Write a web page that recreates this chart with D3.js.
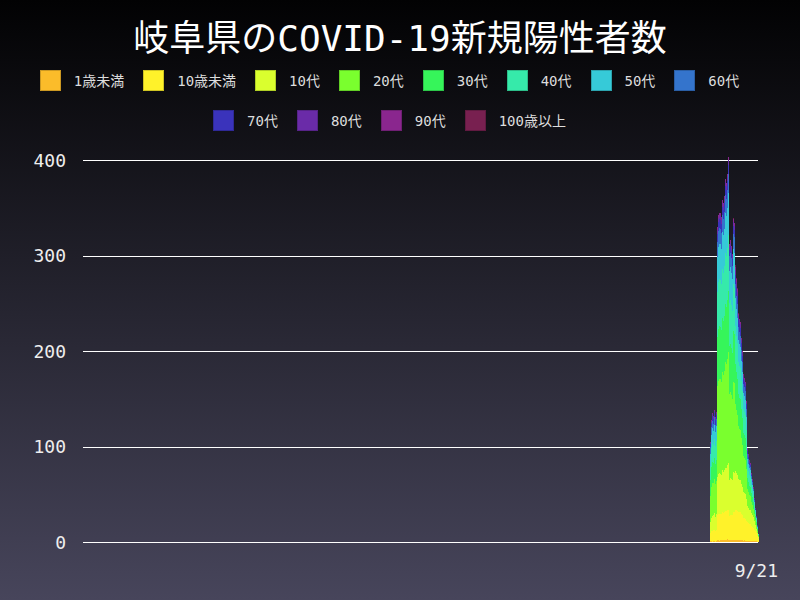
<!DOCTYPE html>
<html><head><meta charset="utf-8">
<script src="https://cdn.jsdelivr.net/npm/d3@7"></script>
<style>html,body{margin:0;padding:0;background:#000}svg{display:block}</style>
</head><body>
<script>
// ---------- data ----------
const titleText = "岐阜県のCOVID-19新規陽性者数";
const dateLabel = "9/21";
const yTicks = [0, 100, 200, 300, 400];
const seriesNames = ["1歳未満","10歳未満","10代","20代","30代","40代","50代","60代","70代","80代","90代","100歳以上"];
const seriesColors = ["#fbbc2a","#fff22a","#daff2e","#7aff2e","#36f55a","#36eaaa","#36cad8","#3474cc","#3a33bb","#6a2ba8","#8a268e","#782050"];
const dates = [
 "2021-08-04","2021-08-05","2021-08-06","2021-08-07","2021-08-08","2021-08-09","2021-08-10",
 "2021-08-11","2021-08-12","2021-08-13","2021-08-14","2021-08-15","2021-08-16","2021-08-17",
 "2021-08-18","2021-08-19","2021-08-20","2021-08-21","2021-08-22","2021-08-23","2021-08-24",
 "2021-08-25","2021-08-26","2021-08-27","2021-08-28","2021-08-29","2021-08-30","2021-08-31",
 "2021-09-01","2021-09-02","2021-09-03","2021-09-04","2021-09-05","2021-09-06","2021-09-07",
 "2021-09-08","2021-09-09","2021-09-10","2021-09-11","2021-09-12","2021-09-13","2021-09-14",
 "2021-09-15","2021-09-16","2021-09-17","2021-09-18","2021-09-19","2021-09-20","2021-09-21"];
const axisStart = "2019-11-16";
const axisEnd = "2021-09-22";

const age00 = [1,1,0,1,1,0,1, 2,2,1,2,2,2,2,2,2,2,3,2,2,2,2,2,2,2, 2,2,2,2,2,2,2,2,1,2,1,1, 1,1,1,1,1,1,1,1,1,1,0,0];
const age01 = [8,10,11,12,12,11,12, 26,27,28,27,27,29,28,29,30,30,31,32,25,26,26,26,29,29, 32,31,30,29,29,29,27,26,24,23,23,21, 20,19,18,18,16,15,14,12,10,8,6,3];
const age10 = [12,14,16,15,17,15,16, 40,42,43,42,41,44,43,44,46,46,47,49,38,39,38,37,42,41, 40,39,38,35,34,34,32,30,27,26,26,23, 17,16,15,15,13,12,11,9,7,5,3,2];
const age20 = [27,33,35,34,36,35,35, 95,98,99,100,98,103,102,104,110,108,111,116,90,90,88,85,95,94, 70,66,63,55,53,52,48,44,38,37,36,31, 17,16,15,14,12,11,9,7,5,4,3,1];
const age30 = [17,21,22,21,22,21,22, 52,54,55,54,54,57,56,58,61,60,61,64,50,50,49,48,53,52, 42,40,38,34,33,33,30,28,24,24,23,20, 12,11,10,10,9,8,7,5,4,3,2,1];
const age40 = [15,19,20,19,20,19,20, 47,49,49,49,48,51,51,52,54,54,55,58,45,46,45,44,49,48, 40,38,37,33,33,32,30,28,25,24,24,21, 12,11,11,10,9,8,7,5,4,3,1,1];
const age50 = [12,14,15,14,15,14,15, 36,37,37,38,37,39,39,39,41,41,42,44,34,35,34,33,37,37, 29,28,27,24,23,22,21,20,17,17,16,14, 8,8,7,7,6,5,4,3,2,1,1,0];
const age60 = [7,8,8,8,8,8,8, 16,17,17,16,17,17,17,18,19,18,19,20,15,15,15,14,16,16, 15,14,14,13,13,12,11,10,9,9,9,8, 5,5,4,4,3,3,2,2,1,1,1,0];
const age70 = [4,5,5,5,4,5,4, 9,9,9,9,9,9,10,9,10,10,9,10,7,7,7,7,8,8, 10,9,9,8,8,8,7,7,6,6,5,5, 3,2,2,2,1,1,1,1,1,1,1,0];
const age80 = [1,2,2,2,2,2,2, 4,4,4,4,4,4,4,4,4,4,4,5,3,3,3,3,4,4, 5,5,4,4,4,4,4,3,3,2,3,2, 2,2,2,1,1,1,1,1,1,0,0,0];
const age90 = [1,1,1,1,1,1,1, 3,3,3,3,3,3,3,3,3,3,3,3,3,3,3,3,3,3, 3,3,3,2,2,2,2,2,2,2,2,2, 1,1,1,1,1,1,1,0,0,0,0,0];
const age100 = [0,0,0,0,0,0,0, 0,0,0,0,0,0,0,0,0,0,0,0,0,0,0,0,1,0, 2,1,1,1,0,0,0,0,0,0,0,0, 0,0,0,0,0,0,0,0,0,0,0,0];
const seriesValues = [age00,age01,age10,age20,age30,age40,age50,age60,age70,age80,age90,age100];

// ---------- chart ----------
const W = 800, H = 600;
const parse = d3.utcParse("%Y-%m-%d");
const svg = d3.select("body").append("svg").attr("width", W).attr("height", H);

const defs = svg.append("defs");
const grad = defs.append("linearGradient").attr("id","bg").attr("x1",0).attr("y1",0).attr("x2",0).attr("y2",1);
grad.append("stop").attr("offset","0%").attr("stop-color","#020203");
grad.append("stop").attr("offset","100%").attr("stop-color","#47455b");
svg.append("rect").attr("width",W).attr("height",H).attr("fill","url(#bg)");

const x = d3.scaleUtc().domain([parse(axisStart), parse(axisEnd)]).range([83, 759]);
const y = d3.scaleLinear().domain([0, 400]).range([542, 160]);

// grid
const grid = svg.append("g");
grid.selectAll("line").data(yTicks).join("line")
  .attr("x1", 83).attr("x2", 758)
  .attr("y1", d => Math.round(y(d)) + 0.5).attr("y2", d => Math.round(y(d)) + 0.5)
  .attr("stroke", "#ffffff").attr("stroke-width", 1);
grid.selectAll("text").data(yTicks).join("text")
  .attr("x", 66).attr("y", d => y(d))
  .attr("text-anchor", "end").attr("dominant-baseline", "central")
  .attr("fill", "#eeeeee").attr("font-family", "'DejaVu Sans Mono', monospace").attr("font-size", 18)
  .text(d => d);

// stacked bars
const rows = dates.map((d, i) => {
  const r = { date: parse(d) };
  seriesNames.forEach((n, k) => r[n] = seriesValues[k][i]);
  return r;
});
const stack = d3.stack().keys(seriesNames)(rows);
const barsG = svg.append("g").attr("shape-rendering", "crispEdges");
stack.forEach((layer, k) => {
  barsG.append("g").attr("fill", seriesColors[k])
    .selectAll("rect").data(layer.filter(d => d[1] > d[0])).join("rect")
    .attr("x", d => x(d.data.date))
    .attr("width", d => x(d3.utcDay.offset(d.data.date, 1)) - x(d.data.date))
    .attr("y", d => y(d[1]))
    .attr("height", d => y(d[0]) - y(d[1]));
});

// title
svg.append("text").attr("x", 400).attr("y", 51).attr("text-anchor", "middle")
  .attr("fill", "#ffffff").attr("font-family", "'DejaVu Sans Mono', 'Noto Sans CJK JP', sans-serif")
  .attr("font-size", 36).text(titleText);

// legend
const legendFont = "'DejaVu Sans Mono', 'Noto Sans CJK JP', sans-serif";
const legendRows = [seriesNames.slice(0, 8), seriesNames.slice(8)];
const rowY = [70, 110];
const boxW = 20, textGap = 14, itemGap = 19, centerX = 389.5;
const legend = svg.append("g");
legendRows.forEach((names, r) => {
  const g = legend.append("g");
  const items = names.map(n => {
    const t = g.append("text").attr("font-family", legendFont).attr("font-size", 14)
      .attr("fill", "#dddddd").attr("dominant-baseline", "central").text(n);
    return { name: n, t, w: t.node().getComputedTextLength() };
  });
  const total = d3.sum(items, it => boxW + textGap + it.w) + itemGap * (items.length - 1);
  let cx = centerX - total / 2;
  items.forEach(it => {
    const k = seriesNames.indexOf(it.name);
    g.append("rect").attr("x", Math.round(cx) + 0.5).attr("y", rowY[r] + 0.5)
      .attr("width", boxW).attr("height", boxW)
      .attr("fill", seriesColors[k]).attr("stroke", d3.color(seriesColors[k]).darker(0.6)).attr("stroke-width", 1);
    it.t.attr("x", cx + boxW + textGap).attr("y", rowY[r] + boxW / 2 + 1);
    cx += boxW + textGap + it.w + itemGap;
  });
});

// date label
svg.append("text").attr("x", 778).attr("y", 577).attr("text-anchor", "end")
  .attr("fill", "#eeeeee").attr("font-family", "'DejaVu Sans Mono', monospace").attr("font-size", 18)
  .text(dateLabel);
</script>
</body></html>
